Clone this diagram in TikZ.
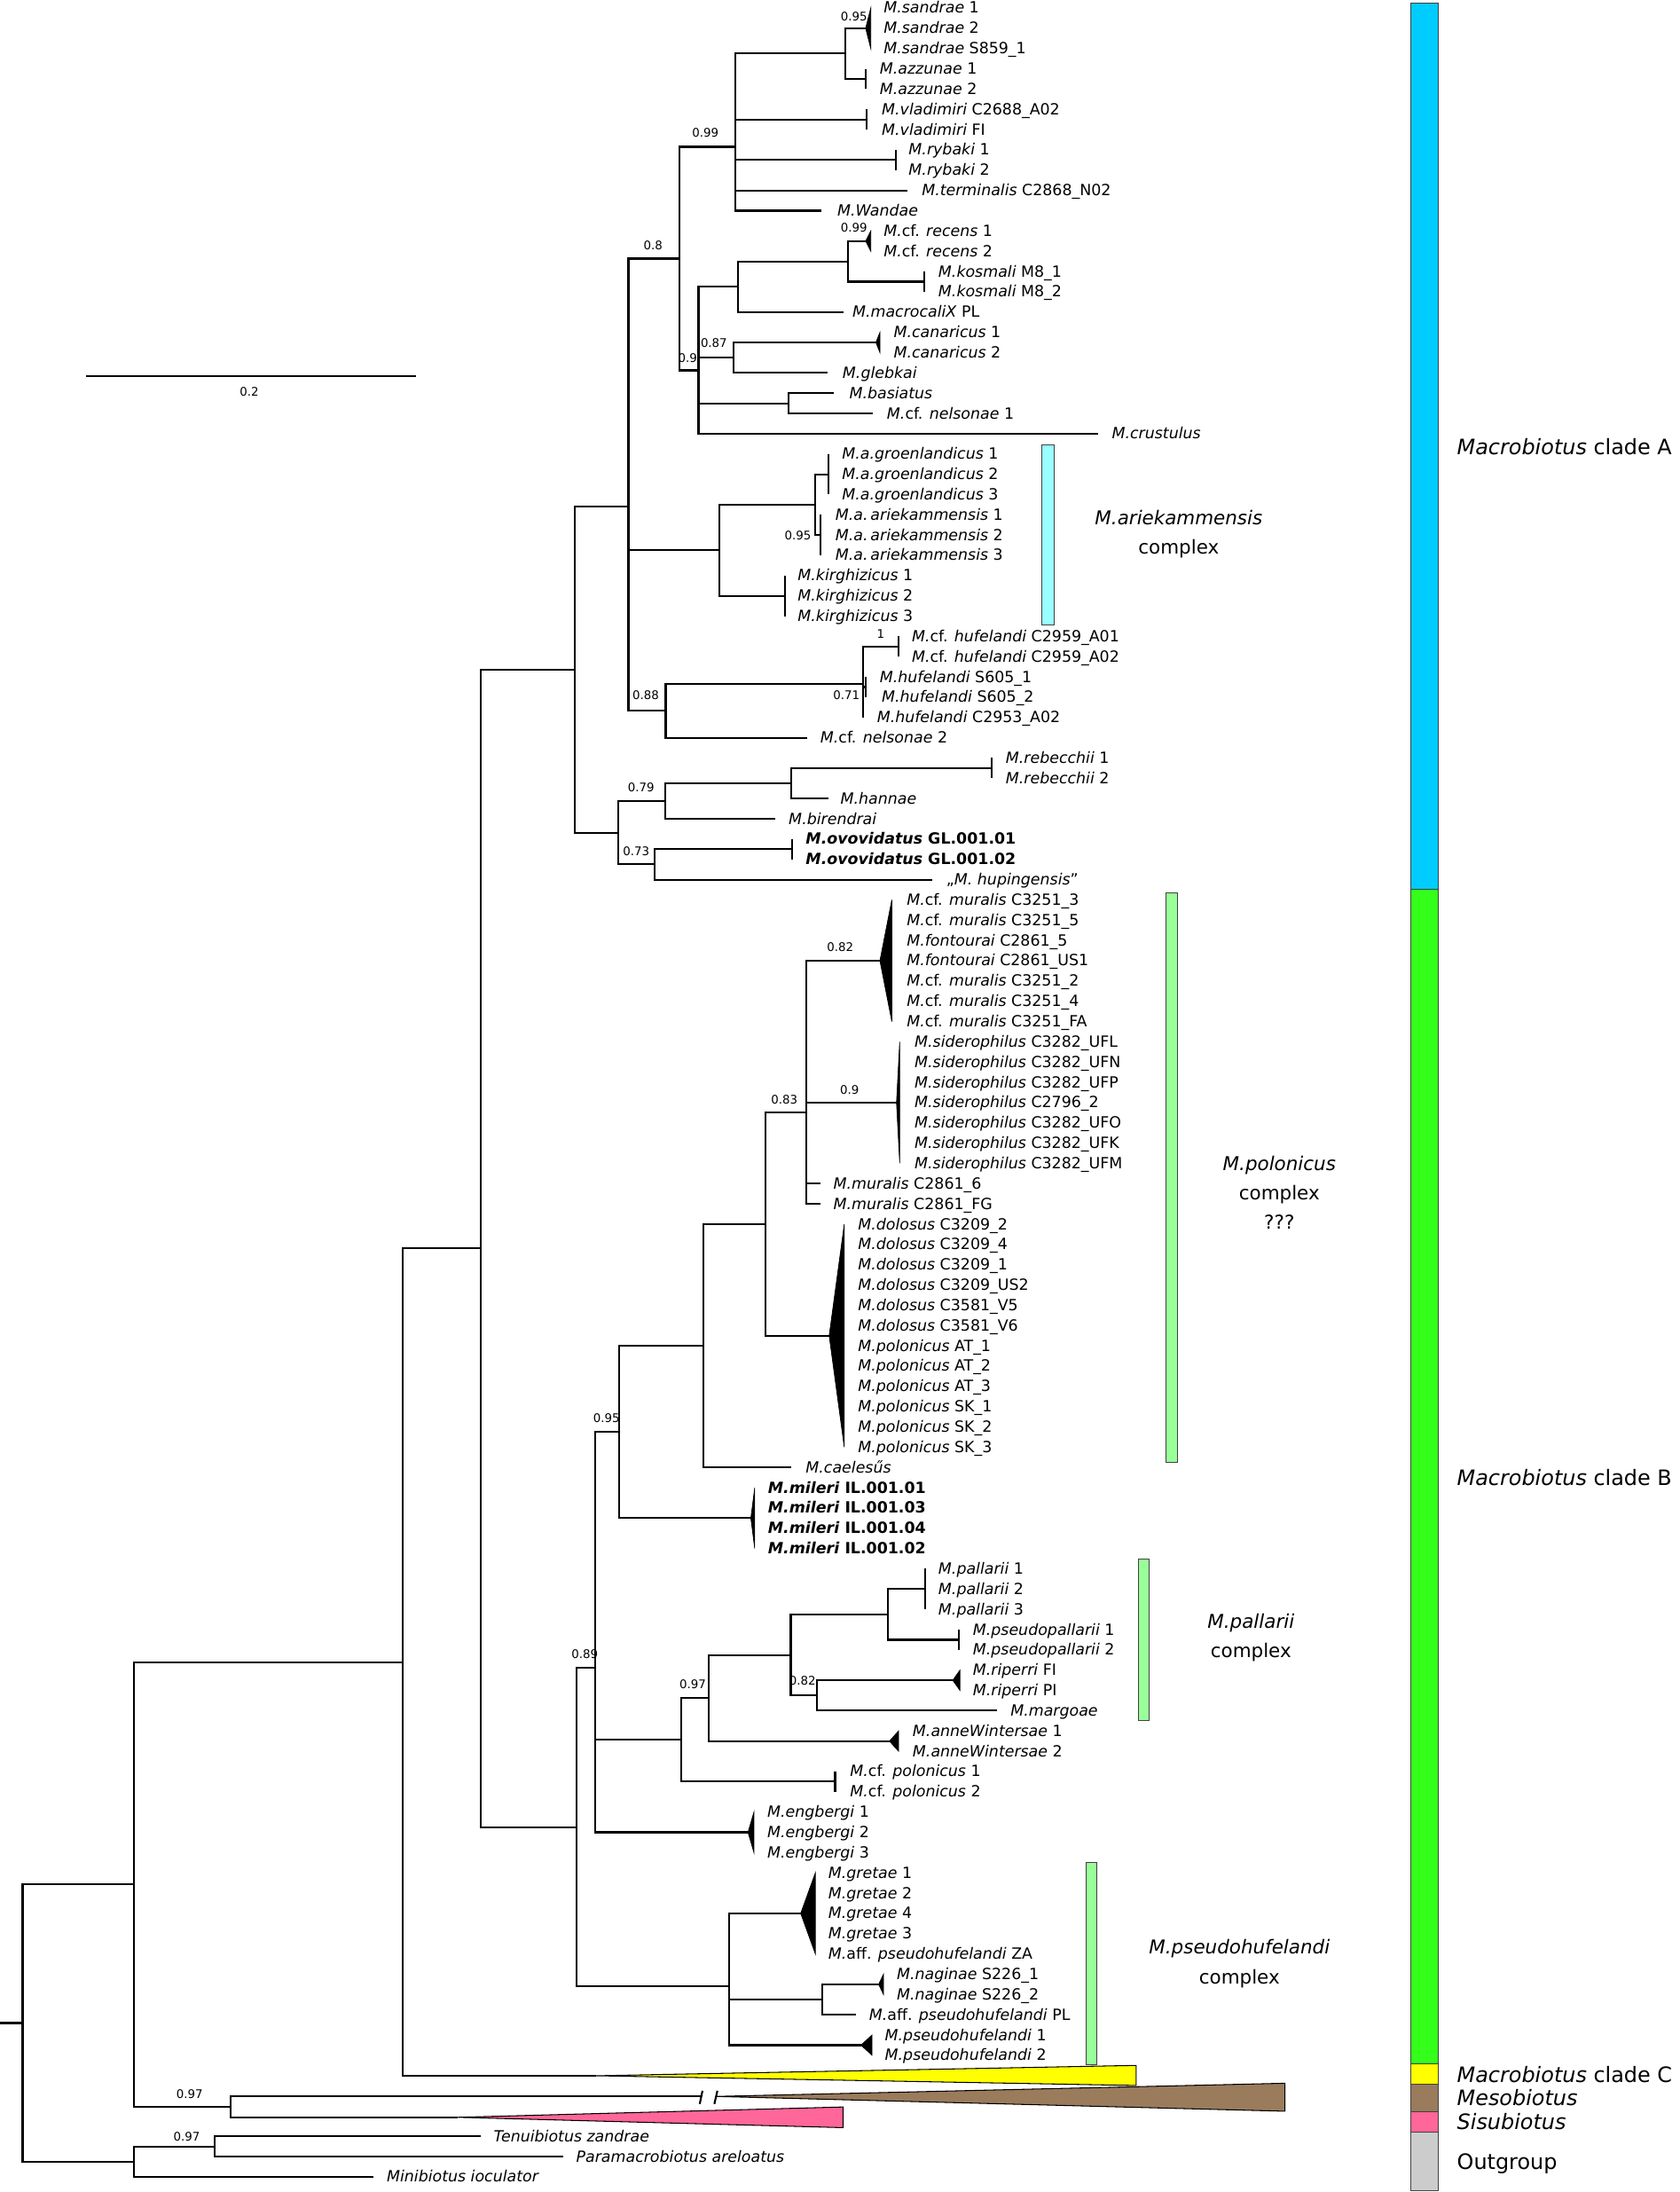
\documentclass[tikz,border=0pt]{standalone}
\usepackage{fontspec}
\setmainfont{DejaVu Sans}
\usepackage{xcolor}
\definecolor{cladeA}{HTML}{00CCFF}
\definecolor{cladeB}{HTML}{33FF1A}
\definecolor{cladeC}{HTML}{FFFF00}
\definecolor{meso}{HTML}{9A7B5C}
\definecolor{sisu}{HTML}{FF6699}
\definecolor{outg}{HTML}{CCCCCC}
\definecolor{cpxA}{HTML}{99FFFF}
\definecolor{cpxB}{HTML}{99FF99}

\begin{document}
\begin{tikzpicture}[x=0.02cm, y=-0.457cm,
  br/.style={line width=1.2pt},
  bar/.style={line width=1.2pt},
  clp/.style={fill=black, draw=black, line width=0.4pt},
  ctri/.style={draw=black, line width=0.6pt},
  cbar/.style={draw=black!75, line width=0.5pt},
  tx/.style={font=\fontsize{9.9}{11}\selectfont, anchor=base west,
             inner sep=0pt, yshift=-0.12cm},
  txb/.style={tx, font=\fontsize{9.9}{11}\selectfont\bfseries},
  pp/.style={font=\fontsize{7.6}{9}\selectfont, inner sep=0pt},
  cpx/.style={font=\fontsize{12.2}{18.8}\selectfont, align=center, inner sep=0pt},
  grp/.style={font=\fontsize{13.6}{16}\selectfont, anchor=base west,
              inner sep=0pt, yshift=-0.175cm},
]
\useasboundingbox (0,-0.394) rectangle (1893,107.746);

% ---- Scale bar ---------------------------------------------------------------
\coordinate (sb1) at (97.1, 18.16);
\coordinate (sb2) at (468.6, 18.16);
\draw[br] (sb1) -- (sb2);
\node[pp] (sbl) at (281, 18.94) {0.2};

% ---- Clade A: sandrae ... Wandae -------------------------------------------
\coordinate (n99)  at (828.4, 6.85);
\coordinate (nSA)  at (952.5, 2.25);
\coordinate (tSan) at (975.7, 1);
\coordinate (tAzz) at (976.2, 3.5);
\coordinate (tVla) at (977, 5.5);
\coordinate (tRyb) at (1009.6, 7.5);
\coordinate (tTer) at (1023, 9);
\coordinate (tWan) at (925.7, 10);
\foreach \c in {tSan, tAzz} \draw[br] (nSA) |- (\c);
\foreach \c in {nSA, tVla, tRyb, tTer, tWan} \draw[br] (n99) |- (\c);
\fill[clp] (tSan) -- (981.5, 0) -- (981.5, 2) -- cycle;
\draw[bar] (976.2, 3) -- (976.2, 4);
\draw[bar] (977, 5) -- (977, 6);
\draw[bar] (1009.6, 7) -- (1009.6, 8);

% ---- Clade A: recens ... crustulus -----------------------------------------
\coordinate (n08)  at (765.9, 12.3625);
\coordinate (n09)  at (787.3, 17.875);
\coordinate (nRKM) at (832, 13.75);
\coordinate (nRK)  at (955.6, 12.5);
\coordinate (tRec) at (975.7, 11.5);
\coordinate (tKos) at (1041.8, 13.5);
\coordinate (tMac) at (950.3, 15);
\coordinate (n087) at (826.6, 17.25);
\coordinate (tCan) at (987.3, 16.5);
\coordinate (tGle) at (932.4, 18);
\coordinate (nBN)  at (889.1, 19.5);
\coordinate (tBas) at (940, 19);
\coordinate (tNe1) at (983.8, 20);
\coordinate (tCru) at (1238.2, 21);
\foreach \c in {n99, n09} \draw[br] (n08) |- (\c);
\foreach \c in {nRKM, n087, nBN, tCru} \draw[br] (n09) |- (\c);
\foreach \c in {nRK, tMac} \draw[br] (nRKM) |- (\c);
\foreach \c in {tRec, tKos} \draw[br] (nRK) |- (\c);
\foreach \c in {tCan, tGle} \draw[br] (n087) |- (\c);
\foreach \c in {tBas, tNe1} \draw[br] (nBN) |- (\c);
\fill[clp] (tRec) -- (981.5, 11) -- (981.5, 12) -- cycle;
\fill[clp] (tCan) -- (991.8, 16) -- (991.8, 17) -- cycle;
\draw[bar] (1041.8, 13) -- (1041.8, 14);

% ---- Clade A: ariekammensis / hufelandi ------------------------------------
\coordinate (nTri) at (708.3, 24.59);
\coordinate (nGK)  at (810.5, 26.75);
\coordinate (nGA)  at (919, 24.5);
\coordinate (tGro) at (933.8, 23);
\coordinate (tAri) at (924.8, 26);
\coordinate (tKir) at (884.6, 29);
\coordinate (n088) at (750.3, 34.67);
\coordinate (nHuf) at (972.6, 33.33);
\coordinate (tCfH) at (1012.8, 31.5);
\coordinate (tS6)  at (975.7, 33.5);
\coordinate (tC29) at (972.6, 35);
\coordinate (tNe2) at (910, 36);
\foreach \c in {n08, nGK, n088} \draw[br] (nTri) |- (\c);
\foreach \c in {nGA, tKir} \draw[br] (nGK) |- (\c);
\foreach \c in {tGro, tAri} \draw[br] (nGA) |- (\c);
\foreach \c in {nHuf, tNe2} \draw[br] (n088) |- (\c);
\foreach \c in {tCfH, tS6, tC29} \draw[br] (nHuf) |- (\c);
\draw[bar] (933.8, 22) -- (933.8, 24);
\draw[bar] (924.8, 25) -- (924.8, 27);
\draw[bar] (884.6, 28) -- (884.6, 30);
\draw[bar] (1012.8, 31) -- (1012.8, 32);
\draw[bar] (975.7, 33) -- (975.7, 34);

% ---- Clade A: rebecchii ... hupingensis ------------------------------------
\coordinate (nRBO) at (697.1, 40.6875);
\coordinate (n079) at (749.4, 39.125);
\coordinate (nRH)  at (892.2, 38.25);
\coordinate (tReb) at (1117.7, 37.5);
\coordinate (tHan) at (933.8, 39);
\coordinate (tBir) at (873.5, 40);
\coordinate (n073) at (738.2, 42.25);
\coordinate (tOvo) at (893.1, 41.5);
\coordinate (tHup) at (1050.7, 43);
\coordinate (nA)   at (648, 32.64);
\foreach \c in {n079, n073} \draw[br] (nRBO) |- (\c);
\foreach \c in {nRH, tBir} \draw[br] (n079) |- (\c);
\foreach \c in {tReb, tHan} \draw[br] (nRH) |- (\c);
\foreach \c in {tOvo, tHup} \draw[br] (n073) |- (\c);
\foreach \c in {nTri, nRBO} \draw[br] (nA) |- (\c);
\draw[bar] (1117.7, 37) -- (1117.7, 38);
\draw[bar] (893.1, 41) -- (893.1, 42);

% ---- Clade B: polonicus group ----------------------------------------------
\coordinate (nB)   at (650, 89.74);
\coordinate (n089) at (671.3, 81.896);
\coordinate (n095) at (698, 70.25);
\coordinate (nMC)  at (792.7, 66);
\coordinate (nMD)  at (863.2, 60);
\coordinate (n083) at (908.8, 54.5);
\coordinate (tMur) at (991.8, 47);
\coordinate (tSid) at (1010.5, 54);
\coordinate (tMu6) at (924.4, 58);
\coordinate (tMuF) at (924.4, 59);
\coordinate (tDol) at (934.6, 65.5);
\coordinate (tCae) at (892.2, 72);
\coordinate (tMil) at (846.3, 74.5);
\foreach \c in {tMur, tSid, tMu6, tMuF} \draw[br] (n083) |- (\c);
\foreach \c in {n083, tDol} \draw[br] (nMD) |- (\c);
\foreach \c in {nMD, tCae} \draw[br] (nMC) |- (\c);
\foreach \c in {nMC, tMil} \draw[br] (n095) |- (\c);
\fill[clp] (tMur) -- (1005.2, 44) -- (1005.2, 50) -- cycle;
\fill[clp] (tSid) -- (1014.1, 51) -- (1014.1, 57) -- cycle;
\fill[clp] (tDol) -- (951.6, 60) -- (951.6, 71) -- cycle;
\fill[clp] (tMil) -- (850.7, 73) -- (850.7, 76) -- cycle;

% ---- Clade B: pallarii group -----------------------------------------------
\coordinate (nPA)  at (768.1, 85.4375);
\coordinate (n097) at (798.5, 83.375);
\coordinate (nPPR) at (891.3, 81.25);
\coordinate (nPP)  at (1000.7, 79.25);
\coordinate (tPal) at (1042.7, 78);
\coordinate (tPsp) at (1081, 80.5);
\coordinate (n082) at (920.4, 83.25);
\coordinate (tRip) at (1073.9, 82.5);
\coordinate (tMar) at (1123.5, 84);
\coordinate (tAnn) at (1002.5, 85.5);
\coordinate (tCfP) at (941.3, 87.5);
\coordinate (tEng) at (843.1, 90);
\foreach \c in {tPal, tPsp} \draw[br] (nPP) |- (\c);
\foreach \c in {tRip, tMar} \draw[br] (n082) |- (\c);
\foreach \c in {nPP, n082} \draw[br] (nPPR) |- (\c);
\foreach \c in {nPPR, tAnn} \draw[br] (n097) |- (\c);
\foreach \c in {n097, tCfP} \draw[br] (nPA) |- (\c);
\foreach \c in {n095, nPA, tEng} \draw[br] (n089) |- (\c);
\draw[bar] (1042.7, 77) -- (1042.7, 79);
\draw[bar] (1081, 80) -- (1081, 81);
\draw[bar] (941.3, 87) -- (941.3, 88);
\fill[clp] (tRip) -- (1082, 82) -- (1082, 83) -- cycle;
\fill[clp] (tAnn) -- (1012.8, 85) -- (1012.8, 86) -- cycle;
\fill[clp] (tEng) -- (849.8, 89) -- (849.8, 91) -- cycle;

% ---- Clade B: pseudohufelandi group ----------------------------------------
\coordinate (nGP)  at (822.1, 97.583);
\coordinate (tGre) at (902.5, 94);
\coordinate (nNA)  at (927, 98.25);
\coordinate (tNag) at (990.4, 97.5);
\coordinate (tAPL) at (964.6, 99);
\coordinate (tPsh) at (970.4, 100.5);
\foreach \c in {tNag, tAPL} \draw[br] (nNA) |- (\c);
\foreach \c in {tGre, nNA, tPsh} \draw[br] (nGP) |- (\c);
\foreach \c in {n089, nGP} \draw[br] (nB) |- (\c);
\fill[clp] (tGre) -- (919, 92) -- (919, 96) -- cycle;
\fill[clp] (tNag) -- (995.8, 97) -- (995.8, 98) -- cycle;
\fill[clp] (tPsh) -- (982.9, 100) -- (982.9, 101) -- cycle;

% ---- Backbone, clade C, Mesobiotus, Sisubiotus, outgroup -------------------
\coordinate (nAB)  at (542.3, 61.19);
\coordinate (nABC) at (454, 81.6);
\coordinate (tC)   at (672, 102.01);
\coordinate (nMS)  at (260.2, 103.55);
\coordinate (kMes) at (790, 103.03);
\coordinate (tMes) at (807, 103.03);
\coordinate (tSis) at (516, 104.06);
\coordinate (nIng) at (151.1, 92.575);
\coordinate (nTP)  at (242.3, 105.5);
\coordinate (tTen) at (542.1, 105);
\coordinate (tPar) at (634.6, 106);
\coordinate (tMin) at (420.9, 107);
\coordinate (nOut) at (151.1, 106.25);
\coordinate (nRoot) at (25.5, 99.41);
\coordinate (stub) at (0, 99.41);
\foreach \c in {nA, nB} \draw[br] (nAB) |- (\c);
\foreach \c in {nAB, tC} \draw[br] (nABC) |- (\c);
\foreach \c in {kMes, tSis} \draw[br] (nMS) |- (\c);
\foreach \c in {nABC, nMS} \draw[br] (nIng) |- (\c);
\foreach \c in {tTen, tPar} \draw[br] (nTP) |- (\c);
\foreach \c in {nTP, tMin} \draw[br] (nOut) |- (\c);
\foreach \c in {nIng, nOut} \draw[br] (nRoot) |- (\c);
\draw[br] (stub) -- (nRoot);
\draw[ctri, fill=cladeC] (tC) -- (1280.6, 101.5) -- (1280.6, 102.49) -- cycle;
\draw[br] (788.7, 103.4) -- (791.8, 102.75);
\draw[br] (805.2, 103.4) -- (808.6, 102.75);
\draw[ctri, fill=meso] (tMes) -- (1448.3, 102.38) -- (1448.3, 103.76) -- cycle;
\draw[ctri, fill=sisu] (tSis) -- (950.3, 103.55) -- (950.3, 104.57) -- cycle;

% ---- Support values --------------------------------------------------------
\node[pp] (s1)  at (962.5, 0.41)  {0.95};
\node[pp] (s2)  at (795, 6.17)    {0.99};
\node[pp] (s3)  at (736, 11.71)   {0.8};
\node[pp] (s4)  at (962.5, 10.84) {0.99};
\node[pp] (s5)  at (804.7, 16.53) {0.87};
\node[pp] (s6)  at (775, 17.26)   {0.9};
\node[pp] (s7)  at (899.3, 26.01) {0.95};
\node[pp] (s8)  at (992.7, 30.9)  {1};
\node[pp] (s9)  at (954, 33.89)   {0.71};
\node[pp] (s10) at (727.8, 33.92) {0.88};
\node[pp] (s11) at (722.6, 38.44) {0.79};
\node[pp] (s12) at (717, 41.62)   {0.73};
\node[pp] (s13) at (947, 46.32)   {0.82};
\node[pp] (s14) at (957.6, 53.36) {0.9};
\node[pp] (s15) at (884, 53.84)   {0.83};
\node[pp] (s16) at (683.5, 69.55) {0.95};
\node[pp] (s17) at (659, 81.23)   {0.89};
\node[pp] (s18) at (780.8, 82.68) {0.97};
\node[pp] (s19) at (904.5, 82.54) {0.82};
\node[pp] (s20) at (213.6, 102.93) {0.97};
\node[pp] (s21) at (210.5, 105.0) {0.97};

% ---- Tip labels ------------------------------------------------------------
\foreach \t [count=\i from 0] in {{\textit{M.sandrae} 1}, {\textit{M.sandrae} 2},
    {\textit{M.sandrae} S859\_1}}
  \node[tx] (lab\i) at (995.8, \i) {\t};
\foreach \t [count=\i from 3] in {{\textit{M.azzunae} 1}, {\textit{M.azzunae} 2}}
  \node[tx] (lab\i) at (991.3, \i) {\t};
\foreach \t [count=\i from 5] in {{\textit{M.vladimiri} C2688\_A02}, {\textit{M.vladimiri} FI}}
  \node[tx] (lab\i) at (993.6, \i) {\t};
\foreach \t [count=\i from 7] in {{\textit{M.rybaki} 1}, {\textit{M.rybaki} 2}}
  \node[tx] (lab\i) at (1023.9, \i) {\t};
\node[tx] (lab9)  at (1038.7, 9)  {\textit{M.terminalis} C2868\_N02};
\node[tx] (lab10) at (943.6, 10)  {\textit{M.Wandae}};
\foreach \t [count=\i from 11] in {{\textit{M.}cf. \textit{recens} 1}, {\textit{M.}cf. \textit{recens} 2}}
  \node[tx] (lab\i) at (995.8, \i) {\t};
\foreach \t [count=\i from 13] in {{\textit{M.kosmali} M8\_1}, {\textit{M.kosmali} M8\_2}}
  \node[tx] (lab\i) at (1057.4, \i) {\t};
\node[tx] (lab15) at (960.5, 15) {\textit{M.macrocaliX} PL};
\foreach \t [count=\i from 16] in {{\textit{M.canaricus} 1}, {\textit{M.canaricus} 2}}
  \node[tx] (lab\i) at (1007, \i) {\t};
\node[tx] (lab18) at (949.4, 18) {\textit{M.glebkai}};
\node[tx] (lab19) at (957, 19)   {\textit{M.basiatus}};
\node[tx] (lab20) at (999.4, 20) {\textit{M.}cf. \textit{nelsonae} 1};
\node[tx] (lab21) at (1253, 21)  {\textit{M.crustulus}};
\foreach \t [count=\i from 22] in {{\textit{M.a.groenlandicus} 1}, {\textit{M.a.groenlandicus} 2},
    {\textit{M.a.groenlandicus} 3}}
  \node[tx] (lab\i) at (948.9, \i) {\t};
\foreach \t [count=\i from 25] in {{\textit{M.a.\,ariekammensis} 1}, {\textit{M.a.\,ariekammensis} 2},
    {\textit{M.a.\,ariekammensis} 3}}
  \node[tx] (lab\i) at (941.3, \i) {\t};
\foreach \t [count=\i from 28] in {{\textit{M.kirghizicus} 1}, {\textit{M.kirghizicus} 2},
    {\textit{M.kirghizicus} 3}}
  \node[tx] (lab\i) at (898.9, \i) {\t};
\foreach \t [count=\i from 31] in {{\textit{M.}cf. \textit{hufelandi} C2959\_A01},
    {\textit{M.}cf. \textit{hufelandi} C2959\_A02}}
  \node[tx] (lab\i) at (1027.5, \i) {\t};
\node[tx] (lab33) at (991.3, 33) {\textit{M.hufelandi} S605\_1};
\node[tx] (lab34) at (993.6, 34) {\textit{M.hufelandi} S605\_2};
\node[tx] (lab35) at (988.2, 35) {\textit{M.hufelandi} C2953\_A02};
\node[tx] (lab36) at (924.4, 36) {\textit{M.}cf. \textit{nelsonae} 2};
\foreach \t [count=\i from 37] in {{\textit{M.rebecchii} 1}, {\textit{M.rebecchii} 2}}
  \node[tx] (lab\i) at (1133.3, \i) {\t};
\node[tx] (lab39) at (947.1, 39) {\textit{M.hannae}};
\node[tx] (lab40) at (888.7, 40) {\textit{M.birendrai}};
\foreach \t [count=\i from 41] in {{\textit{M.ovovidatus} GL.001.01}, {\textit{M.ovovidatus} GL.001.02}}
  \node[txb] (lab\i) at (907.9, \i) {\t};
\node[tx] (lab43) at (1066.3, 43) {„\textit{M. hupingensis}”};
\foreach \t [count=\i from 44] in {{\textit{M.}cf. \textit{muralis} C3251\_3},
    {\textit{M.}cf. \textit{muralis} C3251\_5}, {\textit{M.fontourai} C2861\_5},
    {\textit{M.fontourai} C2861\_US1}, {\textit{M.}cf. \textit{muralis} C3251\_2},
    {\textit{M.}cf. \textit{muralis} C3251\_4}, {\textit{M.}cf. \textit{muralis} C3251\_FA}}
  \node[tx] (lab\i) at (1021.7, \i) {\t};
\foreach \t [count=\i from 51] in {C3282\_UFL, C3282\_UFN, C3282\_UFP, C2796\_2,
    C3282\_UFO, C3282\_UFK, C3282\_UFM}
  \node[tx] (lab\i) at (1030.6, \i) {\textit{M.siderophilus} \t};
\foreach \t [count=\i from 58] in {C2861\_6, C2861\_FG}
  \node[tx] (lab\i) at (939.1, \i) {\textit{M.muralis} \t};
\foreach \t [count=\i from 60] in {C3209\_2, C3209\_4, C3209\_1, C3209\_US2, C3581\_V5, C3581\_V6}
  \node[tx] (lab\i) at (966.8, \i) {\textit{M.dolosus} \t};
\foreach \t [count=\i from 66] in {AT\_1, AT\_2, AT\_3, SK\_1, SK\_2, SK\_3}
  \node[tx] (lab\i) at (966.8, \i) {\textit{M.polonicus} \t};
\node[tx] (lab72) at (907.9, 72) {\textit{M.caelesűs}};
\foreach \t [count=\i from 73] in {IL.001.01, IL.001.03, IL.001.04, IL.001.02}
  \node[txb] (lab\i) at (865.4, \i) {\textit{M.mileri} \t};
\foreach \t [count=\i from 77] in {1, 2, 3}
  \node[tx] (lab\i) at (1057.4, \i) {\textit{M.pallarii} \t};
\foreach \t [count=\i from 80] in {1, 2}
  \node[tx] (lab\i) at (1096.3, \i) {\textit{M.pseudopallarii} \t};
\foreach \t [count=\i from 82] in {FI, PI}
  \node[tx] (lab\i) at (1096.3, \i) {\textit{M.riperri} \t};
\node[tx] (lab84) at (1138.7, 84) {\textit{M.margoae}};
\foreach \t [count=\i from 85] in {1, 2}
  \node[tx] (lab\i) at (1028.4, \i) {\textit{M.anneWintersae} \t};
\foreach \t [count=\i from 87] in {1, 2}
  \node[tx] (lab\i) at (957.9, \i) {\textit{M.}cf. \textit{polonicus} \t};
\foreach \t [count=\i from 89] in {1, 2, 3}
  \node[tx] (lab\i) at (864.6, \i) {\textit{M.engbergi} \t};
\foreach \t [count=\i from 92] in {{\textit{M.gretae} 1}, {\textit{M.gretae} 2},
    {\textit{M.gretae} 4}, {\textit{M.gretae} 3}, {\textit{M.}aff. \textit{pseudohufelandi} ZA}}
  \node[tx] (lab\i) at (933.3, \i) {\t};
\foreach \t [count=\i from 97] in {S226\_1, S226\_2}
  \node[tx] (lab\i) at (1010.5, \i) {\textit{M.naginae} \t};
\node[tx] (lab99) at (979.3, 99) {\textit{M.}aff. \textit{pseudohufelandi} PL};
\foreach \t [count=\i from 100] in {1, 2}
  \node[tx] (lab\i) at (997.1, \i) {\textit{M.pseudohufelandi} \t};
\node[tx] (lab105) at (556.1, 105) {\textit{Tenuibiotus zandrae}};
\node[tx] (lab106) at (649.2, 106) {\textit{Paramacrobiotus areloatus}};
\node[tx] (lab107) at (435.6, 107) {\textit{Minibiotus ioculator}};

% ---- Species complexes -----------------------------------------------------
\draw[cbar, fill=cpxA] (1174.4, 21.56) rectangle (1187.8, 30.43);
\node[cpx] (cxAri) at (1328.6, 25.95) {\textit{M.ariekammensis}\\complex};
\draw[cbar, fill=cpxB] (1314, 43.66) rectangle (1327.5, 71.74);
\node[cpx] (cxPol) at (1442, 58.45) {\textit{M.polonicus}\\complex\\???};
\draw[cbar, fill=cpxB] (1282.9, 76.51) rectangle (1295.4, 84.48);
\node[cpx] (cxPal) at (1410, 80.4) {\textit{M.pallarii}\\complex};
\draw[cbar, fill=cpxB] (1223.9, 91.48) rectangle (1236.4, 101.46);
\node[cpx] (cxPsh) at (1397, 96.48) {\textit{M.pseudohufelandi}\\complex};

% ---- Group legend ----------------------------------------------------------
\draw[cbar, fill=cladeA] (1590.4, -0.26) rectangle (1621.1, 43.46);
\draw[cbar, fill=cladeB] (1590.4, 43.46) rectangle (1621.1, 101.43);
\draw[cbar, fill=cladeC] (1590.4, 101.43) rectangle (1621.1, 102.42);
\draw[cbar, fill=meso]   (1590.4, 102.42) rectangle (1621.1, 103.76);
\draw[cbar, fill=sisu]   (1590.4, 103.76) rectangle (1621.1, 104.78);
\draw[cbar, fill=outg]   (1590.4, 104.78) rectangle (1621.1, 107.67);
\node[grp] (gA)   at (1642, 21.66)  {\textit{Macrobiotus} clade A};
\node[grp] (gB)   at (1642, 72.52)  {\textit{Macrobiotus} clade B};
\node[grp] (gC)   at (1642, 101.94) {\textit{Macrobiotus} clade C};
\node[grp] (gMes) at (1642, 103.11) {\textit{Mesobiotus}};
\node[grp] (gSis) at (1642, 104.28) {\textit{Sisubiotus}};
\node[grp] (gOut) at (1642, 106.24) {Outgroup};

\end{tikzpicture}
\end{document}
